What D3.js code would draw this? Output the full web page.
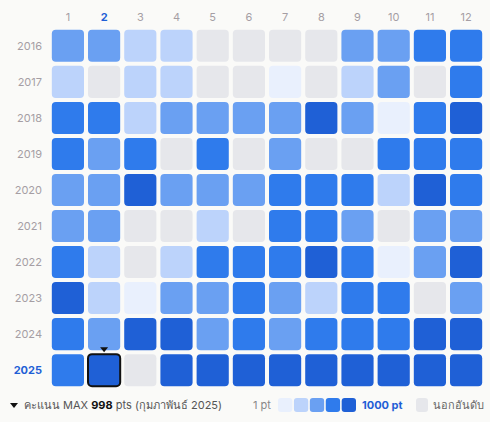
<!DOCTYPE html>
<html><head><meta charset="utf-8">
<script src="https://cdn.jsdelivr.net/npm/d3@7"></script>
<style>body{margin:0;background:#fafaf8;font-family:Inter,"Noto Sans","DejaVu Sans",sans-serif}</style>
</head><body><svg id="c" width="490" height="422"></svg>
<script>
const months=["1","2","3","4","5","6","7","8","9","10","11","12"];
const years=["2016","2017","2018","2019","2020","2021","2022","2023","2024","2025"];
const levels=[
[3,3,2,2,0,0,0,0,3,3,4,4],
[2,0,2,2,0,0,1,0,2,3,0,4],
[4,4,2,3,3,3,3,5,3,1,4,5],
[4,3,4,0,4,0,3,0,0,4,4,4],
[3,3,5,3,3,3,4,4,4,2,5,4],
[3,3,0,0,2,0,4,4,3,0,3,3],
[4,2,0,2,4,4,4,5,4,1,3,5],
[5,2,1,3,3,4,3,2,4,4,0,3],
[4,3,5,5,3,4,3,4,4,4,5,5],
[4,5,0,5,5,5,5,5,5,5,5,5]];
const palette=["#e6e7eb","#e9f0fd","#bcd3fb","#6aa0f2","#2f7bec","#1f60d6"];
const hiYear="2025",hiMonth="2";
const svg=d3.select("#c");
const x=d3.scaleBand().domain(months).range([50,484]).paddingInner(0.111).paddingOuter(0.05);
const y=d3.scaleBand().domain(years).range([28,388]).paddingInner(0.111).paddingOuter(0.05);
const lab="#a59ea4";
svg.selectAll(".m").data(months).join("text").attr("x",d=>x(d)+x.bandwidth()/2).attr("y",21)
 .attr("text-anchor","middle").attr("font-size",11).attr("fill",d=>d===hiMonth?"#1f5fd6":lab)
 .attr("font-weight",d=>d===hiMonth?700:400).text(d=>d);
svg.selectAll(".y").data(years).join("text").attr("x",42).attr("y",d=>y(d)+y.bandwidth()/2+4)
 .attr("text-anchor","end").attr("font-size",11).attr("fill",d=>d===hiYear?"#1f5fd6":lab)
 .attr("font-weight",d=>d===hiYear?700:400).text(d=>d);
const cells=[];years.forEach((yr,i)=>months.forEach((m,j)=>cells.push({yr,m,v:levels[i][j]})));
svg.selectAll("rect.cell").data(cells).join("rect").attr("x",d=>x(d.m)).attr("y",d=>y(d.yr))
 .attr("width",x.bandwidth()).attr("height",y.bandwidth()).attr("rx",4).attr("fill",d=>palette[d.v]);
const hx=x(hiMonth),hy=y(hiYear);
svg.append("rect").attr("x",hx).attr("y",hy).attr("width",x.bandwidth()).attr("height",y.bandwidth())
 .attr("rx",4).attr("fill","none").attr("stroke","#111").attr("stroke-width",2);
const cx=hx+x.bandwidth()/2;
svg.append("path").attr("d",`M${cx-4},${hy-7}L${cx+4},${hy-7}L${cx},${hy-2}Z`).attr("fill","#111");
// legend
const ly=409;
svg.append("path").attr("d",`M10,${ly-6}L18,${ly-6}L14,${ly-1}Z`).attr("fill","#111");
const t=svg.append("text").attr("x",24).attr("y",ly).attr("font-size",11).attr("fill","#555");
t.append("tspan").text("คะแนน MAX ");
t.append("tspan").attr("font-weight",700).attr("fill","#111").text("998");
t.append("tspan").text(" pts (กุมภาพันธ์ 2025)");
svg.append("text").attr("x",253).attr("y",ly).attr("font-size",11).attr("fill","#888").text("1 pt");
const sw=d3.scaleBand().domain([1,2,3,4,5]).range([278,356]).paddingInner(0.1);
svg.selectAll("rect.sw").data([1,2,3,4,5]).join("rect").attr("x",d=>sw(d)).attr("y",ly-11)
 .attr("width",sw.bandwidth()).attr("height",14).attr("rx",3).attr("fill",d=>palette[d]);
svg.append("text").attr("x",362).attr("y",ly).attr("font-size",11).attr("font-weight",700).attr("fill","#1f5fd6").text("1000 pt");
svg.append("rect").attr("x",416).attr("y",ly-11).attr("width",12).attr("height",14).attr("rx",3).attr("fill",palette[0]);
svg.append("text").attr("x",433).attr("y",ly).attr("font-size",11).attr("fill","#666").text("นอกอันดับ");
</script></body></html>
